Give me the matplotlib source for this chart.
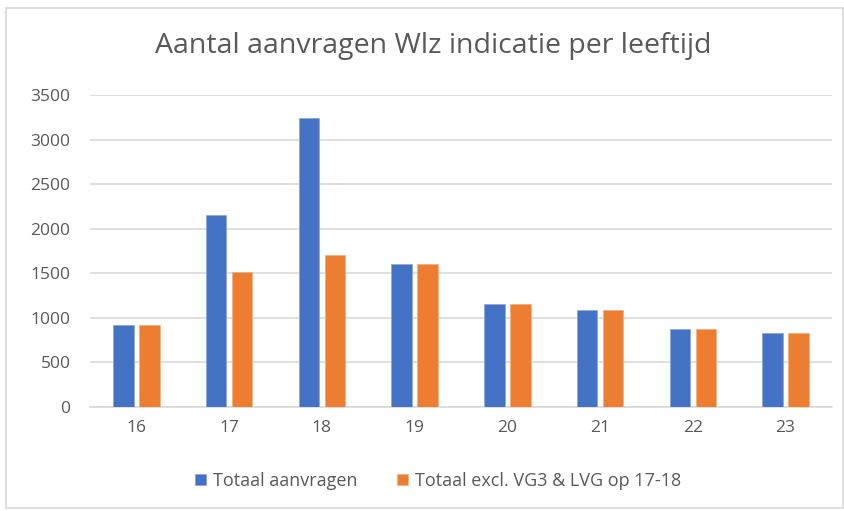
import matplotlib.pyplot as plt
import numpy as np
from matplotlib.patches import Rectangle

# data
ages = ["16", "17", "18", "19", "20", "21", "22", "23"]
totaal = [915, 2150, 3240, 1600, 1160, 1085, 880, 830]
totaal_excl = [915, 1510, 1710, 1600, 1160, 1085, 880, 830]
series_names = ["Totaal aanvragen", "Totaal excl. VG3 & LVG op 17-18"]
yticks = [0, 500, 1000, 1500, 2000, 2500, 3000, 3500]

blue = "#4472C4"
orange = "#ED7D31"
text_gray = "#595959"
grid_gray = "#D9D9D9"

plt.rcParams['font.family'] = ['Open Sans', 'DejaVu Sans']

fig = plt.figure(figsize=(8.45, 5.11), dpi=100)
# chart-area border like the Excel export
fig.patches.append(Rectangle((6 / 845, 3 / 511), 837 / 845, 500 / 511,
                             transform=fig.transFigure, fill=False,
                             edgecolor=grid_gray, linewidth=1.2))

ax = fig.add_axes([90 / 845, (511 - 407) / 511, 742 / 845, 312 / 511])

x = np.arange(len(ages))
w = 0.22
off = 0.14
ax.bar(x - off, totaal, width=w, color=blue, edgecolor="#8FAADC", linewidth=0.6,
       label=series_names[0], zorder=3)
ax.bar(x + off, totaal_excl, width=w, color=orange, edgecolor="#F4B183", linewidth=0.6,
       label=series_names[1], zorder=3)

ax.set_xlim(-0.5, len(ages) - 0.5)
ax.set_ylim(0, 3500)
ax.set_yticks(yticks)
ax.set_xticks(x)
ax.set_xticklabels(ages)
ax.yaxis.grid(True, color=grid_gray, linewidth=1.2, zorder=0)
ax.set_axisbelow(True)
for s in ["top", "right", "left"]:
    ax.spines[s].set_visible(False)
ax.spines["bottom"].set_color(grid_gray)
ax.spines["bottom"].set_linewidth(1.2)
ax.tick_params(axis="both", length=0, labelsize=12.5, labelcolor=text_gray)
ax.tick_params(axis="y", pad=14)
ax.tick_params(axis="x", pad=9)

fig.text(433 / 845, 1 - 46 / 511, "Aantal aanvragen Wlz indicatie per leeftijd",
         ha="center", va="center", fontsize=20.5, color=text_gray)

leg = fig.legend(loc="center", bbox_to_anchor=(438 / 845, 1 - 481 / 511), ncol=2,
                 frameon=False, fontsize=13, handlelength=0.6, handleheight=0.6,
                 handletextpad=0.4, columnspacing=2.2)
for t in leg.get_texts():
    t.set_color(text_gray)

fig.savefig("out.png", dpi=100)
